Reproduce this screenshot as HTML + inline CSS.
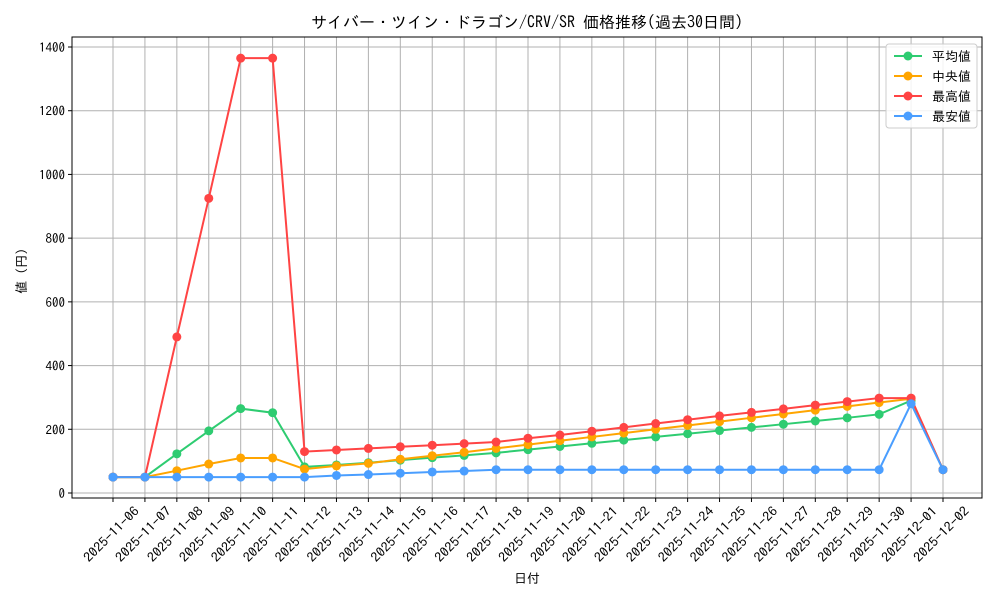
<!DOCTYPE html>
<html><head><meta charset="utf-8"><style>
body{margin:0;background:#fff;}
svg{font-family:"IPAGothic","Noto Sans CJK JP",sans-serif;}
</style></head><body>
<svg id="c" width="1000" height="600" xmlns="http://www.w3.org/2000/svg"></svg>
<script>
const categories=["2025-11-06","2025-11-07","2025-11-08","2025-11-09","2025-11-10","2025-11-11","2025-11-12","2025-11-13","2025-11-14","2025-11-15","2025-11-16","2025-11-17","2025-11-18","2025-11-19","2025-11-20","2025-11-21","2025-11-22","2025-11-23","2025-11-24","2025-11-25","2025-11-26","2025-11-27","2025-11-28","2025-11-29","2025-11-30","2025-12-01","2025-12-02"];
const avgValues=[50,50,123,195,265,252,82,88,95,103,111,118,126,136,146,156,166,176,186,196,206,216,226,236,247,290,73];
const medianValues=[50,50,70,91,110,110,75,85,93,106,117,128,140,152,164,176,188,200,212,224,236,248,260,272,284,296,73];
const maxValues=[50,50,490,925,1365,1365,130,135,140,145,150,155,160,172,182,194,206,218,230,242,253,264,276,287,298,298,73];
const minValues=[50,50,50,50,50,50,50,55,58,62,66,69,73,73,73,73,73,73,73,73,73,73,73,73,73,280,73];
const yTicks=[0,200,400,600,800,1000,1200,1400];
const seriesNames=["平均値","中央値","最高値","最安値"];

const svg=document.getElementById('c');
const NS="http://www.w3.org/2000/svg";
const L=72,R=982,T=37,B=498;
const xs=i=>113+i*(943-113)/(categories.length-1);
const ys=v=>493-v*(493-47)/1400;
function mk(tag,attrs,parent){const e=document.createElementNS(NS,tag);for(const k in attrs)e.setAttribute(k,attrs[k]);(parent||svg).appendChild(e);return e;}

const grid=mk('g',{});


categories.forEach((c,i)=>{mk('line',{x1:xs(i),x2:xs(i),y1:T,y2:B,stroke:'#b0b0b0','stroke-width':1},grid);});
yTicks.forEach(v=>{mk('line',{x1:L,x2:R,y1:ys(v),y2:ys(v),stroke:'#b0b0b0','stroke-width':1},grid);});

const frame=mk('rect',{x:L,y:T,width:R-L,height:B-T,fill:'none',stroke:'#000','stroke-width':1});



const xt=mk('g',{});


categories.forEach((c,i)=>{
  mk('line',{x1:xs(i),x2:xs(i),y1:B,y2:B+4,stroke:'#000'},xt);
  const ax=xs(i)+27, ay=B+14;
  const t=mk('text',{x:ax,y:ay,'font-size':13,'text-anchor':'end',textLength:72,lengthAdjust:'spacingAndGlyphs',transform:`rotate(-45 ${ax} ${ay})`},xt);
  t.textContent=c;
  
  
});
const yt=mk('g',{});


yTicks.forEach(v=>{
  mk('line',{x1:L-4,x2:L,y1:ys(v),y2:ys(v),stroke:'#000'},yt);
  const t=mk('text',{x:L-7,y:ys(v)+5,'font-size':13,'text-anchor':'end'},yt);
  t.textContent=v;
  
  
});

const colors=['#2ecc71','#ffa500','#ff4444','#4a9eff'];
const data=[avgValues,medianValues,maxValues,minValues];
const snames=['series-average','series-median','series-max','series-min'];
data.forEach((arr,s)=>{
  const g=mk('g',{});
  
  
  mk('polyline',{points:arr.map((v,i)=>xs(i)+','+ys(v)).join(' '),fill:'none',stroke:colors[s],'stroke-width':2},g);
  arr.forEach((v,i)=>{
    const p=mk('circle',{cx:xs(i),cy:ys(v),r:4.5,fill:colors[s]},g);
    
    
  });
});

const title=mk('text',{x:527,y:28,'font-size':16,'text-anchor':'middle'});
title.textContent='サイバー・ツイン・ドラゴン/CRV/SR 価格推移(過去30日間)';


const xl=mk('text',{x:527,y:583,'font-size':13,'text-anchor':'middle'});
xl.textContent='日付';


const yl=mk('text',{x:26,y:271,'font-size':13,'text-anchor':'middle',transform:'rotate(-90 26 271)'});
yl.textContent='値 (円)';



const lg=mk('g',{});


mk('rect',{x:886,y:44,width:91,height:84,rx:3,fill:'#fff','fill-opacity':0.85,stroke:'#ccc'},lg);
seriesNames.forEach((n,i)=>{
  const y=56+i*20;
  const e=mk('g',{},lg);
  
  
  mk('line',{x1:894,x2:922,y1:y,y2:y,stroke:colors[i],'stroke-width':2},e);
  mk('circle',{cx:908,cy:y,r:4.5,fill:colors[i]},e);
  const t=mk('text',{x:932,y:y+5,'font-size':13},e);
  t.textContent=n;
});
</script>
</body></html>
